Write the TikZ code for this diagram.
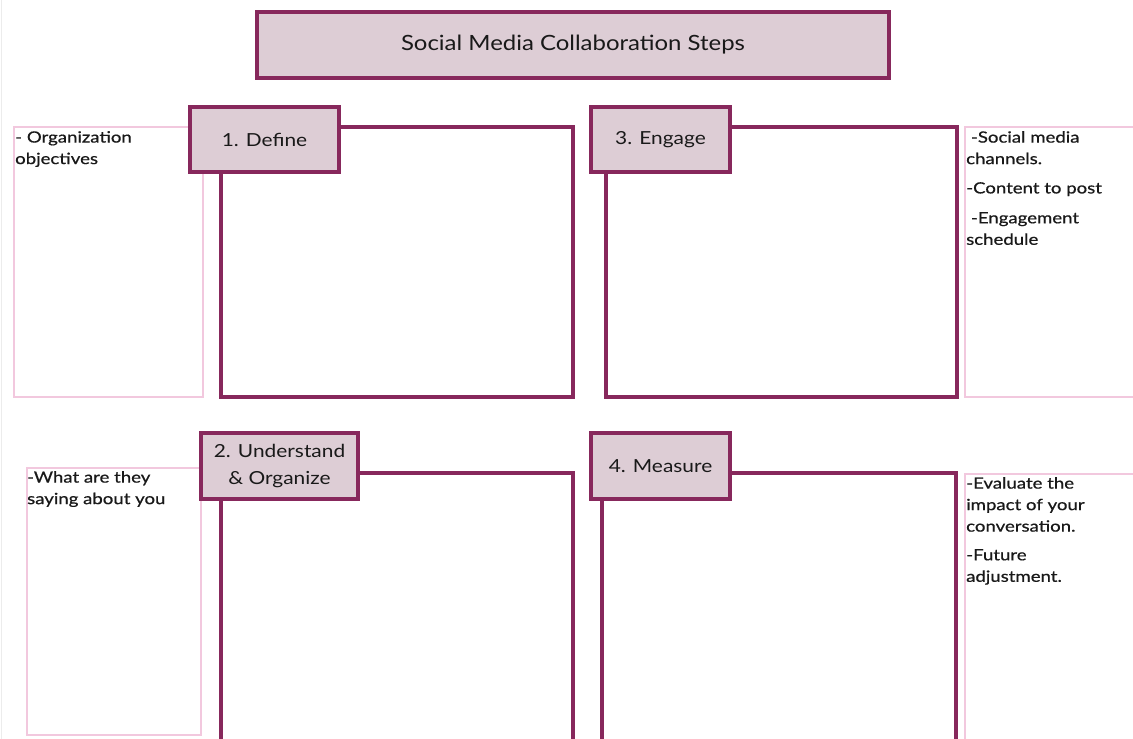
\documentclass[tikz,border=0pt]{standalone}
\usepackage{fontspec}
\setmainfont{Lato}
\newfontfamily\titlefont[FakeStretch=1.14]{Lato}
\newfontfamily\labelfont[FakeStretch=1.16]{Lato}
\newfontfamily\notefont[FakeStretch=1.2,FakeBold=0.6]{Lato}
\definecolor{plumline}{RGB}{135,40,92}
\definecolor{plumfill}{RGB}{221,205,213}
\definecolor{pinkline}{RGB}{242,200,222}
\definecolor{txt}{RGB}{25,25,25}
\tikzset{
  bigbox/.style={draw=plumline, line width=3.2pt, anchor=north west, inner sep=0pt, outer sep=0pt},
  labelbox/.style={draw=plumline, fill=plumfill, line width=3.2pt, anchor=north west, inner sep=0pt, outer sep=0pt, text=txt, align=center},
  notebox/.style={draw=pinkline, line width=1.4pt, anchor=north west, inner sep=0pt, outer sep=0pt},
  notetext/.style={anchor=north west, inner sep=0pt, text=txt, font=\notefont\fontsize{15.5}{21.5}\selectfont, align=left},
}
\begin{document}
\begin{tikzpicture}[x=1pt,y=-1pt]
\useasboundingbox (0,0) rectangle (1133,739);
\clip (0,0) rectangle (1133,739);
\fill[white] (0,0) rectangle (1133,739);
\draw[gray!15, line width=1pt] (1.5,0) -- (1.5,739);
% title
\node[labelbox, minimum width=632, minimum height=66, font=\titlefont\fontsize{21}{24}\selectfont] (title) at (257,12) {Social Media Collaboration Steps};
% note boxes
\node[notebox, minimum width=189, minimum height=270] (n1) at (14,127) {};
\node[notebox, minimum width=174, minimum height=267] (n2) at (27,468) {};
\node[notebox, minimum width=200, minimum height=270] (n3) at (965,127) {};
\node[notebox, minimum width=200, minimum height=300] (n4) at (965,474) {};
% big boxes
\node[bigbox, minimum width=352, minimum height=270] (b1) at (221,127) {};
\node[bigbox, minimum width=351, minimum height=270] (b3) at (606,127) {};
\node[bigbox, minimum width=352, minimum height=300] (b2) at (221,473) {};
\node[bigbox, minimum width=354, minimum height=300] (b4) at (602,473) {};
% label boxes
\node[labelbox, minimum width=149, minimum height=65, font=\labelfont\fontsize{18}{20}\selectfont] (l1) at (190,107) {1. Define};
\node[labelbox, minimum width=139, minimum height=65, font=\labelfont\fontsize{18}{20}\selectfont] (l3) at (591,107) {3. Engage};
\node[labelbox, minimum width=157, minimum height=66, font=\labelfont\fontsize{18}{27}\selectfont] (l2) at (201,433) {2. Understand\\ \& Organize};
\node[labelbox, minimum width=139, minimum height=66, font=\labelfont\fontsize{18}{20}\selectfont] (l4) at (591,433) {4. Measure};
% note texts
\node[notetext] (t1) at (15,131) {- Organization\\objectives};
\node[notetext] (t2) at (27,471) {-What are they\\saying about you};
\node[notetext] (t3a) at (966,131) {\ -Social media\\channels.};
\node[notetext] (t3b) at (966,182) {-Content to post};
\node[notetext] (t3c) at (966,212) {\ -Engagement\\schedule};
\node[notetext] (t4a) at (966,477) {-Evaluate the\\impact of your\\conversation.};
\node[notetext] (t4b) at (966,549) {-Future\\adjustment.};
\end{tikzpicture}
\end{document}
